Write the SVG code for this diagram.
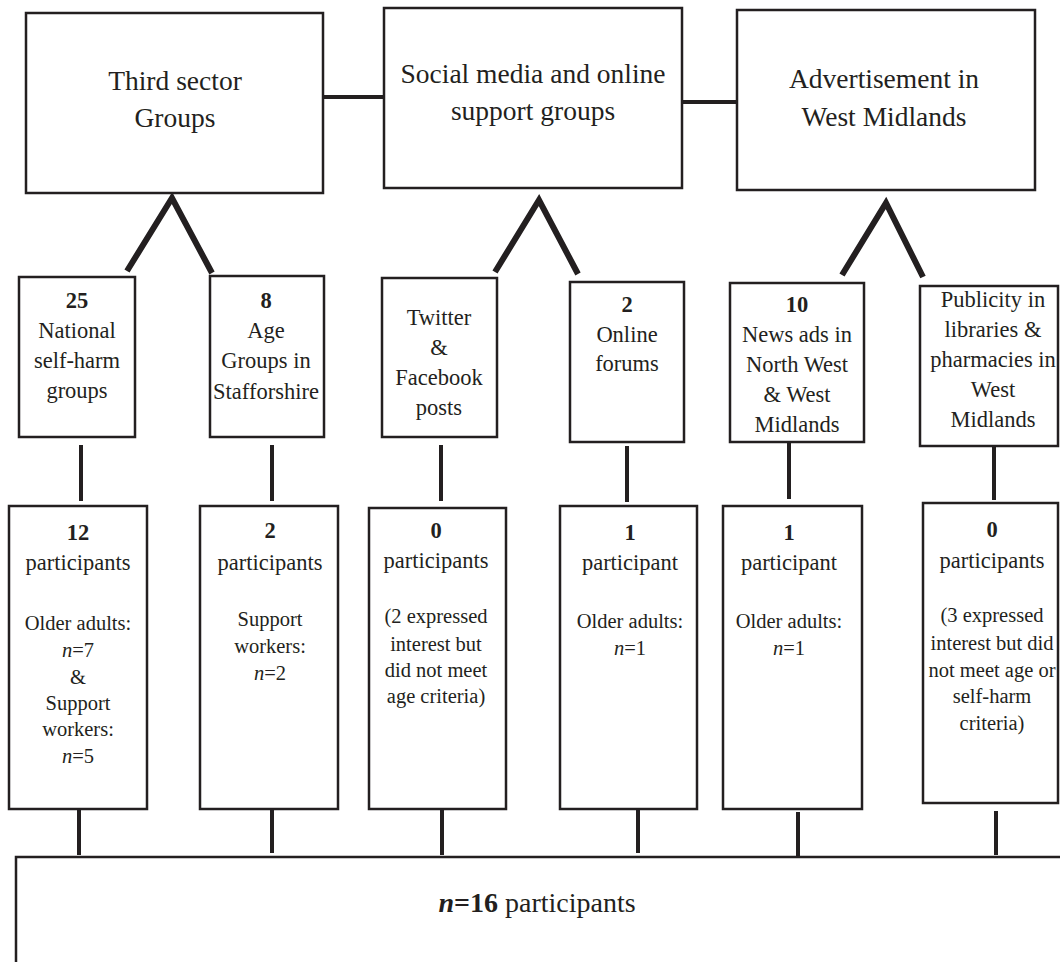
<svg xmlns="http://www.w3.org/2000/svg" width="1060" height="962" viewBox="0 0 1060 962">
<style>
.box{fill:#fff;stroke:#231f20;stroke-width:2.5}
.t{font-family:"Liberation Serif","Times New Roman",serif;fill:#231f20;text-anchor:middle}
.t27{font-size:27.5px}
.t22{font-size:22.5px}
.t20{font-size:20.5px}
.b{font-weight:bold}
.i{font-style:italic}
.c4{stroke:#231f20;stroke-width:4;fill:none}
.c6{stroke:#231f20;stroke-width:6;fill:none;stroke-linejoin:miter;stroke-miterlimit:10}
</style>
<rect width="1060" height="962" fill="#fff"/>
<g id="connectors">
<line class="c4" x1="324" y1="97" x2="384" y2="97"/>
<line class="c4" x1="682" y1="102" x2="737" y2="102"/>
<polyline class="c6" points="127,271 172,198 212,273"/>
<polyline class="c6" points="495,272 539,200 578,274"/>
<polyline class="c6" points="842,275 886,203 923,277"/>
<line class="c4" x1="81" y1="445" x2="81" y2="501"/>
<line class="c4" x1="272" y1="445" x2="272" y2="501"/>
<line class="c4" x1="441" y1="445" x2="441" y2="501"/>
<line class="c4" x1="627" y1="446" x2="627" y2="502"/>
<line class="c4" x1="789" y1="442" x2="789" y2="499"/>
<line class="c4" x1="994" y1="444" x2="994" y2="500"/>
<line class="c4" x1="79" y1="810" x2="79" y2="855"/>
<line class="c4" x1="272" y1="810" x2="272" y2="853"/>
<line class="c4" x1="442" y1="810" x2="442" y2="855"/>
<line class="c4" x1="638" y1="809" x2="638" y2="853"/>
<line class="c4" x1="798" y1="812" x2="798" y2="857"/>
<line class="c4" x1="996" y1="811" x2="996" y2="855"/>
</g>
<g id="third-sector">
<rect class="box" x="26" y="13" width="297" height="180"/>
<text class="t t27" x="175" y="90">Third sector</text>
<text class="t t27" x="175" y="127">Groups</text>
</g>
<g id="social-media">
<rect class="box" x="384" y="8" width="298" height="180"/>
<text class="t t27" x="533" y="83">Social media and online</text>
<text class="t t27" x="533" y="120">support groups</text>
</g>
<g id="advertisement">
<rect class="box" x="737" y="10" width="298" height="180"/>
<text class="t t27" x="884" y="88">Advertisement in</text>
<text class="t t27" x="884" y="126">West Midlands</text>
</g>
<g id="national">
<rect class="box" x="19" y="277" width="116" height="160"/>
<text class="t t22 b" x="77" y="308">25</text>
<text class="t t22" x="77" y="338">National</text>
<text class="t t22" x="77" y="368">self-harm</text>
<text class="t t22" x="77" y="398">groups</text>
</g>
<g id="age-groups">
<rect class="box" x="210" y="276" width="114" height="161"/>
<text class="t t22 b" x="266" y="308">8</text>
<text class="t t22" x="266" y="338">Age</text>
<text class="t t22" x="266" y="368">Groups in</text>
<text class="t t22" x="266" y="399">Stafforshire</text>
</g>
<g id="twitter">
<rect class="box" x="382" y="278" width="115" height="159"/>
<text class="t t22" x="439" y="325">Twitter</text>
<text class="t t22" x="439" y="355">&amp;</text>
<text class="t t22" x="439" y="385">Facebook</text>
<text class="t t22" x="439" y="415">posts</text>
</g>
<g id="forums">
<rect class="box" x="570" y="282" width="114" height="160"/>
<text class="t t22 b" x="627" y="312">2</text>
<text class="t t22" x="627" y="342">Online</text>
<text class="t t22" x="627" y="371">forums</text>
</g>
<g id="news-ads">
<rect class="box" x="730" y="283" width="134" height="159"/>
<text class="t t22 b" x="797" y="312">10</text>
<text class="t t22" x="797" y="342">News ads in</text>
<text class="t t22" x="797" y="372">North West</text>
<text class="t t22" x="797" y="402">&amp; West</text>
<text class="t t22" x="797" y="432">Midlands</text>
</g>
<g id="publicity">
<rect class="box" x="920" y="286" width="138" height="160"/>
<text class="t t22" x="993" y="307">Publicity in</text>
<text class="t t22" x="993" y="337">libraries &amp;</text>
<text class="t t22" x="993" y="367">pharmacies in</text>
<text class="t t22" x="993" y="397">West</text>
<text class="t t22" x="993" y="427">Midlands</text>
</g>
<g id="result-national">
<rect class="box" x="9" y="506" width="138" height="303"/>
<text class="t t22 b" x="78" y="540">12</text>
<text class="t t22" x="78" y="570">participants</text>
<text class="t t20" x="78" y="630">Older adults:</text>
<text class="t t20" x="78" y="657"><tspan class="i">n</tspan>=7</text>
<text class="t t20" x="78" y="684">&amp;</text>
<text class="t t20" x="78" y="710">Support</text>
<text class="t t20" x="78" y="736">workers:</text>
<text class="t t20" x="78" y="763"><tspan class="i">n</tspan>=5</text>
</g>
<g id="result-age">
<rect class="box" x="200" y="506" width="138" height="303"/>
<text class="t t22 b" x="270" y="538">2</text>
<text class="t t22" x="270" y="570">participants</text>
<text class="t t20" x="270" y="626">Support</text>
<text class="t t20" x="270" y="653">workers:</text>
<text class="t t20" x="270" y="680"><tspan class="i">n</tspan>=2</text>
</g>
<g id="result-twitter">
<rect class="box" x="369" y="508" width="137" height="301"/>
<text class="t t22 b" x="436" y="538">0</text>
<text class="t t22" x="436" y="568">participants</text>
<text class="t t20" x="436" y="623">(2 expressed</text>
<text class="t t20" x="436" y="651">interest but</text>
<text class="t t20" x="436" y="677">did not meet</text>
<text class="t t20" x="436" y="703">age criteria)</text>
</g>
<g id="result-forums">
<rect class="box" x="560" y="506" width="137" height="303"/>
<text class="t t22 b" x="630" y="540">1</text>
<text class="t t22" x="630" y="570">participant</text>
<text class="t t20" x="630" y="628">Older adults:</text>
<text class="t t20" x="630" y="655"><tspan class="i">n</tspan>=1</text>
</g>
<g id="result-news">
<rect class="box" x="723" y="506" width="139" height="303"/>
<text class="t t22 b" x="789" y="540">1</text>
<text class="t t22" x="789" y="570">participant</text>
<text class="t t20" x="789" y="628">Older adults:</text>
<text class="t t20" x="789" y="655"><tspan class="i">n</tspan>=1</text>
</g>
<g id="result-publicity">
<rect class="box" x="923" y="503" width="135" height="300"/>
<text class="t t22 b" x="992" y="537">0</text>
<text class="t t22" x="992" y="568">participants</text>
<text class="t t20" x="992" y="622">(3 expressed</text>
<text class="t t20" x="992" y="650">interest but did</text>
<text class="t t20" x="992" y="677">not meet age or</text>
<text class="t t20" x="992" y="703">self-harm</text>
<text class="t t20" x="992" y="730">criteria)</text>
</g>
<g id="total">
<rect class="box" x="16" y="857" width="1100" height="200"/>
<text class="t" x="537" y="912" style="font-size:28px"><tspan class="b i">n</tspan><tspan class="b">=16</tspan> participants</text>
</g>
</svg>
